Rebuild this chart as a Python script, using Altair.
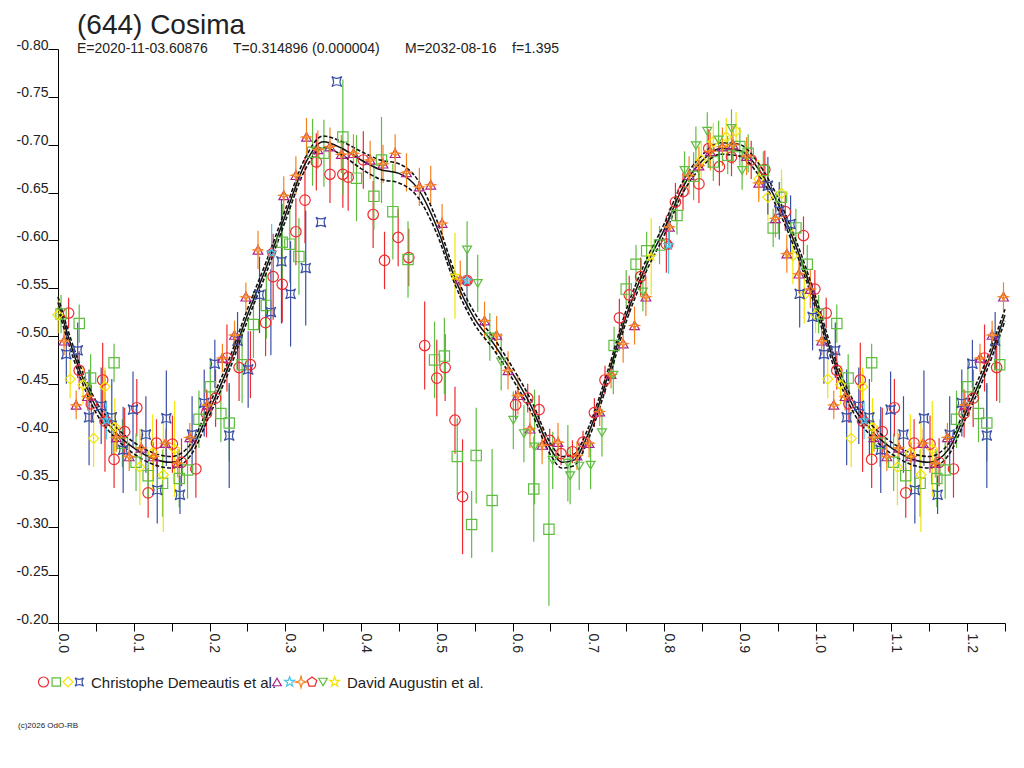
import altair as alt
import pandas as pd

FONT = "Liberation Sans, Arial, sans-serif"

# ---------------- data: (phase, reduced magnitude, error) ----------------
# Christophe Demeautis et al.
dem_circles = [
    (0.014, -0.524, 0.016), (0.028, -0.464, 0.020), (0.044, -0.429, 0.020), (0.059, -0.454, 0.039),
    (0.062, -0.411, 0.053), (0.074, -0.371, 0.030), (0.088, -0.400, 0.025), (0.104, -0.425, 0.030),
    (0.119, -0.336, 0.026), (0.130, -0.388, 0.025), (0.151, -0.387, 0.030), (0.163, -0.368, 0.025),
    (0.182, -0.361, 0.030), (0.196, -0.419, 0.025), (0.208, -0.435, 0.030), (0.223, -0.477, 0.035),
    (0.239, -0.467, 0.035), (0.254, -0.470, 0.035), (0.274, -0.514, 0.035), (0.284, -0.562, 0.045),
    (0.296, -0.554, 0.040), (0.314, -0.609, 0.035), (0.326, -0.642, 0.045), (0.341, -0.682, 0.030),
    (0.359, -0.669, 0.030), (0.376, -0.669, 0.035), (0.383, -0.666, 0.035), (0.403, -0.684, 0.030),
    (0.416, -0.627, 0.035), (0.431, -0.579, 0.030), (0.449, -0.603, 0.030), (0.463, -0.582, 0.030),
    (0.484, -0.490, 0.046), (0.500, -0.456, 0.040), (0.511, -0.467, 0.035), (0.524, -0.412, 0.035),
    (0.534, -0.332, 0.060), (0.540, -0.558, 0.030), (0.604, -0.428, 0.015), (0.620, -0.435, 0.015),
    (0.635, -0.423, 0.015), (0.649, -0.391, 0.012), (0.664, -0.377, 0.012), (0.679, -0.379, 0.012),
    (0.693, -0.389, 0.012), (0.708, -0.420, 0.015), (0.722, -0.454, 0.015), (0.741, -0.519, 0.020),
    (0.754, -0.543, 0.020), (0.769, -0.562, 0.020), (0.803, -0.596, 0.030), (0.815, -0.640, 0.020),
    (0.825, -0.651, 0.020), (0.846, -0.659, 0.020), (0.859, -0.696, 0.020), (0.873, -0.677, 0.020),
    (0.889, -0.687, 0.020), (0.915, -0.684, 0.020), (0.933, -0.674, 0.020), (0.960, -0.630, 0.020),
    (0.984, -0.605, 0.020), (0.999, -0.549, 0.020),
]
dem_squares = [
    (0.004, -0.523, 0.020), (0.028, -0.513, 0.020), (0.043, -0.456, 0.025), (0.074, -0.472, 0.020),
    (0.085, -0.388, 0.025), (0.103, -0.368, 0.030), (0.119, -0.354, 0.025), (0.138, -0.346, 0.035),
    (0.160, -0.351, 0.030), (0.171, -0.360, 0.030), (0.186, -0.413, 0.030), (0.201, -0.447, 0.030),
    (0.215, -0.419, 0.030), (0.226, -0.409, 0.040), (0.243, -0.470, 0.040), (0.258, -0.512, 0.035),
    (0.275, -0.532, 0.035), (0.296, -0.598, 0.040), (0.306, -0.596, 0.040), (0.318, -0.583, 0.040),
    (0.336, -0.692, 0.035), (0.351, -0.691, 0.035), (0.376, -0.708, 0.060), (0.394, -0.665, 0.045),
    (0.417, -0.646, 0.035), (0.427, -0.684, 0.045), (0.442, -0.630, 0.050), (0.462, -0.580, 0.040),
    (0.497, -0.475, 0.040), (0.510, -0.479, 0.040), (0.527, -0.374, 0.040), (0.546, -0.303, 0.035),
    (0.552, -0.375, 0.050), (0.573, -0.328, 0.054), (0.628, -0.340, 0.055), (0.648, -0.298, 0.080),
    (0.734, -0.490, 0.020), (0.750, -0.549, 0.020), (0.763, -0.575, 0.020), (0.777, -0.589, 0.020),
    (0.794, -0.595, 0.020), (0.817, -0.626, 0.020), (0.839, -0.667, 0.025), (0.865, -0.682, 0.020),
    (0.884, -0.689, 0.020), (0.900, -0.698, 0.020), (0.911, -0.691, 0.020), (0.931, -0.673, 0.020),
    (0.944, -0.613, 0.020), (0.955, -0.645, 0.020), (0.974, -0.613, 0.020), (0.989, -0.575, 0.020),
]
dem_diamonds = [
    (0.000, -0.522, 0.019), (0.016, -0.455, 0.020), (0.033, -0.449, 0.020), (0.047, -0.393, 0.030),
    (0.062, -0.447, 0.020), (0.075, -0.405, 0.030), (0.108, -0.363, 0.040), (0.125, -0.378, 0.040),
    (0.139, -0.355, 0.060), (0.154, -0.382, 0.050), (0.849, -0.684, 0.020), (0.865, -0.703, 0.020),
    (0.882, -0.708, 0.020), (0.895, -0.714, 0.020), (0.925, -0.664, 0.020), (0.937, -0.645, 0.025),
    (0.955, -0.649, 0.025), (0.970, -0.584, 0.030), (0.985, -0.543, 0.030),
]
dem_astroids = [
    (0.011, -0.481, 0.031), (0.026, -0.485, 0.029), (0.041, -0.415, 0.050), (0.057, -0.427, 0.040),
    (0.071, -0.415, 0.040), (0.086, -0.381, 0.045), (0.099, -0.423, 0.040), (0.116, -0.397, 0.040),
    (0.131, -0.339, 0.035), (0.143, -0.414, 0.050), (0.161, -0.334, 0.020), (0.177, -0.397, 0.040),
    (0.193, -0.430, 0.035), (0.207, -0.471, 0.025), (0.226, -0.396, 0.055), (0.237, -0.495, 0.030),
    (0.251, -0.465, 0.040), (0.266, -0.543, 0.040), (0.281, -0.525, 0.045), (0.295, -0.578, 0.065),
    (0.307, -0.544, 0.055), (0.327, -0.571, 0.060), (0.347, -0.619, 0.000), (0.368, -0.766, 0.000),
    (0.937, -0.657, 0.030), (0.952, -0.631, 0.030), (0.967, -0.617, 0.030), (0.979, -0.544, 0.035),
    (0.996, -0.520, 0.035),
]
# David Augustin et al.
aug_triangles = [  # triangles, overplotted by orange four-point stars
    (0.008, -0.495, 0.015), (0.024, -0.428, 0.015), (0.039, -0.437, 0.015), (0.077, -0.394, 0.015),
    (0.094, -0.374, 0.015), (0.110, -0.383, 0.015), (0.126, -0.374, 0.015), (0.142, -0.388, 0.015),
    (0.158, -0.367, 0.015), (0.174, -0.394, 0.015), (0.197, -0.428, 0.015), (0.217, -0.477, 0.015),
    (0.233, -0.501, 0.015), (0.248, -0.541, 0.015), (0.264, -0.590, 0.020), (0.298, -0.647, 0.020),
    (0.314, -0.668, 0.020), (0.328, -0.708, 0.020), (0.343, -0.695, 0.020), (0.359, -0.698, 0.020),
    (0.374, -0.690, 0.020), (0.390, -0.691, 0.020), (0.412, -0.684, 0.020), (0.429, -0.680, 0.020),
    (0.445, -0.691, 0.020), (0.460, -0.671, 0.020), (0.477, -0.656, 0.020), (0.492, -0.658, 0.020),
    (0.507, -0.618, 0.020), (0.531, -0.559, 0.020), (0.563, -0.516, 0.020), (0.579, -0.501, 0.020),
    (0.594, -0.464, 0.020), (0.607, -0.438, 0.020), (0.623, -0.403, 0.020), (0.639, -0.386, 0.020),
    (0.660, -0.389, 0.020), (0.685, -0.375, 0.015), (0.701, -0.388, 0.015), (0.715, -0.421, 0.015),
    (0.730, -0.460, 0.015), (0.746, -0.492, 0.020), (0.761, -0.511, 0.020), (0.776, -0.541, 0.020),
    (0.807, -0.614, 0.020), (0.833, -0.668, 0.020), (0.846, -0.678, 0.020), (0.861, -0.693, 0.020),
    (0.877, -0.698, 0.020), (0.891, -0.700, 0.020), (0.909, -0.688, 0.020), (0.925, -0.660, 0.020),
    (0.947, -0.623, 0.020), (0.962, -0.586, 0.020), (0.978, -0.565, 0.020), (0.993, -0.549, 0.020),
]
aug_pentagons = [  # pentagons, overplotted by cyan stars
    (0.064, -0.412, 0.020), (0.282, -0.587, 0.030), (0.540, -0.558, 0.030), (0.806, -0.595, 0.030),
]
aug_down_triangles = [
    (0.540, -0.590, 0.030), (0.554, -0.555, 0.030), (0.570, -0.499, 0.025), (0.585, -0.473, 0.030),
    (0.601, -0.412, 0.030), (0.615, -0.398, 0.030), (0.629, -0.384, 0.060), (0.653, -0.370, 0.030),
    (0.673, -0.367, 0.040), (0.676, -0.354, 0.030), (0.688, -0.364, 0.025), (0.703, -0.365, 0.025),
    (0.718, -0.399, 0.025), (0.733, -0.459, 0.020), (0.772, -0.546, 0.020), (0.827, -0.673, 0.020),
    (0.842, -0.699, 0.020), (0.857, -0.714, 0.020), (0.872, -0.705, 0.020), (0.889, -0.717, 0.020),
    (0.903, -0.673, 0.020),
]
aug_yellow_stars = [(0.524, -0.563, 0.045), (0.783, -0.583, 0.040)]

# Fourier fit and its uncertainty envelope
fit_phase = [0.000, 0.025, 0.050, 0.075, 0.100, 0.125, 0.150, 0.175, 0.200, 0.225, 0.250, 0.275,
             0.300, 0.325, 0.350, 0.375, 0.400, 0.425, 0.450, 0.475, 0.500, 0.525, 0.550, 0.575,
             0.600, 0.625, 0.650, 0.665, 0.680, 0.700, 0.725, 0.750, 0.775, 0.800, 0.825, 0.850,
             0.875, 0.900, 0.925, 0.950, 0.975, 1.000]
fit_mag = [-0.535, -0.472, -0.426, -0.400, -0.383, -0.372, -0.368, -0.381, -0.423, -0.468, -0.522, -0.572,
           -0.626, -0.678, -0.703, -0.696, -0.684, -0.674, -0.670, -0.654, -0.614, -0.558, -0.518, -0.492,
           -0.461, -0.426, -0.382, -0.368, -0.370, -0.398, -0.456, -0.521, -0.571, -0.611, -0.656, -0.683,
           -0.696, -0.694, -0.674, -0.639, -0.592, -0.535]
fit_upper = [-0.541, -0.478, -0.432, -0.406, -0.389, -0.378, -0.374, -0.387, -0.429, -0.474, -0.528, -0.578,
             -0.632, -0.684, -0.709, -0.703, -0.693, -0.684, -0.680, -0.663, -0.621, -0.564, -0.524, -0.498,
             -0.467, -0.432, -0.388, -0.374, -0.376, -0.404, -0.462, -0.527, -0.577, -0.617, -0.662, -0.689,
             -0.702, -0.700, -0.680, -0.645, -0.598, -0.541]
fit_lower = [-0.529, -0.466, -0.420, -0.394, -0.377, -0.366, -0.362, -0.375, -0.417, -0.462, -0.516, -0.566,
             -0.620, -0.672, -0.697, -0.689, -0.675, -0.664, -0.660, -0.645, -0.607, -0.552, -0.512, -0.486,
             -0.455, -0.420, -0.376, -0.362, -0.364, -0.392, -0.450, -0.515, -0.565, -0.605, -0.650, -0.677,
             -0.690, -0.688, -0.668, -0.633, -0.586, -0.529]

x_ticks = [0.0, 0.05, 0.1, 0.15, 0.2, 0.25, 0.3, 0.35, 0.4, 0.45, 0.5, 0.55, 0.6, 0.65, 0.7, 0.75,
           0.8, 0.85, 0.9, 0.95, 1.0, 1.05, 1.1, 1.15, 1.2, 1.25]
y_ticks = [-0.80, -0.75, -0.70, -0.65, -0.60, -0.55, -0.50, -0.45, -0.40, -0.35, -0.30, -0.25, -0.20]

title_text = "(644) Cosima"
subtitle_parts = ["E=2020-11-03.60876", "T=0.314896 (0.000004)", "M=2032-08-16", "f=1.395"]
legend_labels = ["Christophe Demeautis et al.", "David Augustin et al."]
copyright_text = "(c)2026 OdO-RB"

# ---------------- styles ----------------
RED, GREEN, YELLOW, BLUE = "#ee2a2e", "#5fbd40", "#f4e400", "#3a4fa6"
PURPLE, ORANGE, CYAN = "#a6238f", "#f6821f", "#4fc4e8"
ASTROID = "M-1,-1 Q0,-0.3 1,-1 Q0.3,0 1,1 Q0,0.3 -1,1 Q-0.3,0 -1,-1 Z"
STAR4 = "M0,-1 L0.22,-0.22 L1,0 L0.22,0.22 L0,1 L-0.22,0.22 L-1,0 L-0.22,-0.22 Z"
PENT = "M0,-1 L0.951,-0.309 L0.588,0.809 L-0.588,0.809 L-0.951,-0.309 Z"
STAR5 = ("M0,-1 L0.235,-0.324 L0.951,-0.309 L0.38,0.124 L0.588,0.809 L0,0.4 "
         "L-0.588,0.809 L-0.38,0.124 L-0.951,-0.309 L-0.235,-0.324 Z")

series = [
    # name, data, colour, shape, size, draw error bars
    ("dem_circle", dem_circles, RED, "circle", 110, True),
    ("dem_square", dem_squares, GREEN, "square", 75, True),
    ("dem_diamond", dem_diamonds, YELLOW, "diamond", 110, True),
    ("dem_astroid", dem_astroids, BLUE, ASTROID, 70, True),
    ("aug_tri", aug_triangles, PURPLE, "triangle-up", 75, False),
    ("aug_ostar", aug_triangles, ORANGE, STAR4, 150, True),
    ("aug_pent", aug_pentagons, RED, PENT, 100, False),
    ("aug_cstar", aug_pentagons, CYAN, STAR5, 110, True),
    ("aug_dtri", aug_down_triangles, GREEN, "triangle-down", 75, True),
    ("aug_ystar", aug_yellow_stars, YELLOW, STAR5, 120, True),
]
names = [s[0] for s in series]
colors = [s[2] for s in series]
shapes = [s[3] for s in series]
sizes = [s[4] for s in series]

rows = []
for k, (name, data, _c, _s, _z, bars) in enumerate(series):
    for p, m, e in data:
        rows.append({"series": name, "k": k, "phase": p, "mag": m, "err": e, "bars": bars})
df = pd.DataFrame(rows)
wrap = df[df["phase"] < 0.25].copy()
wrap["phase"] = wrap["phase"] + 1.0
pts = pd.concat([df, wrap], ignore_index=True).sort_values("k", kind="stable")
pts["lo"] = pts["mag"] - pts["err"]
pts["hi"] = pts["mag"] + pts["err"]
bars_df = pts[(pts["bars"]) & (pts["err"] > 0)]

curve = pd.DataFrame({"phase": fit_phase, "fit": fit_mag, "upper": fit_upper, "lower": fit_lower})
cwrap = curve[curve["phase"] <= 0.25].copy()
cwrap["phase"] = cwrap["phase"] + 1.0
curve = pd.concat([curve, cwrap[cwrap["phase"] > 1.0]], ignore_index=True)
band = curve.melt(id_vars="phase", value_vars=["upper", "lower"], var_name="band", value_name="mag")

# ---------------- scales & axes ----------------
xs = alt.Scale(domain=[0, 1.25], nice=False, zero=False)
ys = alt.Scale(domain=[-0.80, -0.20], reverse=True, nice=False, zero=False)
x_axis = alt.Axis(
    values=x_ticks, title=None, grid=False,
    labelExpr="(round(datum.value * 100) % 10 == 0) ? format(datum.value, '.1f') : ''",
    labelAngle=90, labelAlign="left", labelBaseline="alphabetic", labelPadding=2,
    tickSize=8, labelFontSize=14, labelFont=FONT, labelColor="#222222",
    domainColor="black", tickColor="black", labelOverlap=False, labelFlush=False,
)
y_axis = alt.Axis(
    values=y_ticks, title=None, grid=False,
    labelExpr="(datum.value < 0 ? '-' : '') + format(abs(datum.value), '.2f')",
    labelAlign="right", labelBaseline="alphabetic", labelPadding=0, tickSize=10,
    labelFontSize=14, labelFont=FONT, labelColor="#222222",
    domainColor="black", tickColor="black", labelOverlap=False, labelFlush=False,
)
X = alt.X("phase:Q", scale=xs, axis=x_axis)
color_enc = alt.Color("series:N", scale=alt.Scale(domain=names, range=colors), legend=None)

errbars = alt.Chart(bars_df).mark_rule(strokeWidth=1.2).encode(
    x=X, y=alt.Y("lo:Q", scale=ys, axis=y_axis), y2="hi:Q", color=color_enc
)
points = alt.Chart(pts).mark_point(filled=False, strokeWidth=1.2, opacity=1).encode(
    x=X, y=alt.Y("mag:Q", scale=ys, axis=y_axis), color=color_enc,
    shape=alt.Shape("series:N", scale=alt.Scale(domain=names, range=shapes), legend=None),
    size=alt.Size("series:N", scale=alt.Scale(domain=names, range=sizes), legend=None),
)
fit_line = alt.Chart(curve).mark_line(color="#111111", strokeWidth=1.5, interpolate="monotone").encode(
    x=X, y=alt.Y("fit:Q", scale=ys, axis=y_axis)
)
band_lines = alt.Chart(band).mark_line(
    color="#111111", strokeWidth=1.6, strokeDash=[4, 2], interpolate="monotone"
).encode(x=X, y=alt.Y("mag:Q", scale=ys, axis=y_axis), detail="band:N")

one = pd.DataFrame({"a": [0]})


def text_layer(txt, x, y, size, baseline="alphabetic", color="#222222"):
    return alt.Chart(one).mark_text(
        text=txt, align="left", baseline=baseline, fontSize=size, font=FONT, color=color
    ).encode(x=alt.value(x), y=alt.value(y))


def symbol_layer(shape, color, size, x, y):
    return alt.Chart(one).mark_point(filled=False, strokeWidth=1.2, opacity=1).encode(
        x=alt.value(x), y=alt.value(y), shape=alt.value(shape),
        color=alt.value(color), size=alt.value(size)
    )


texts = [
    text_layer(title_text, 19, -15, 28),
    text_layer(subtitle_parts[0], 19, 4, 14),
    text_layer(subtitle_parts[1], 175, 4, 14),
    text_layer(subtitle_parts[2], 347, 4, 14),
    text_layer(subtitle_parts[3], 454, 4, 14),
    text_layer(legend_labels[0], 33, 634, 15, baseline="middle"),
    text_layer(legend_labels[1], 289, 634, 15, baseline="middle"),
    text_layer(copyright_text, -40, 677, 8, baseline="middle"),
]
legend_syms = [
    symbol_layer("circle", RED, 100, -14.5, 633),
    symbol_layer("square", GREEN, 70, -1.7, 633),
    symbol_layer("diamond", YELLOW, 100, 10, 633),
    symbol_layer(ASTROID, BLUE, 70, 21.3, 633),
    symbol_layer("triangle-up", PURPLE, 75, 219, 633),
    symbol_layer(STAR5, CYAN, 110, 231.6, 633),
    symbol_layer(STAR4, ORANGE, 130, 243, 633),
    symbol_layer(PENT, RED, 100, 254, 633),
    symbol_layer("triangle-down", GREEN, 75, 265, 633),
    symbol_layer(STAR5, YELLOW, 110, 276.6, 633),
]

chart = alt.layer(errbars, band_lines, fit_line, points, *texts, *legend_syms).properties(
    width=947, height=574,
    autosize=alt.AutoSizeParams(type="none"),
    padding={"left": 50, "top": 41, "right": 10, "bottom": 120},
    background="white",
).configure_view(stroke=None)

chart.save("out.html", embed_options={"renderer": "svg", "actions": False})
